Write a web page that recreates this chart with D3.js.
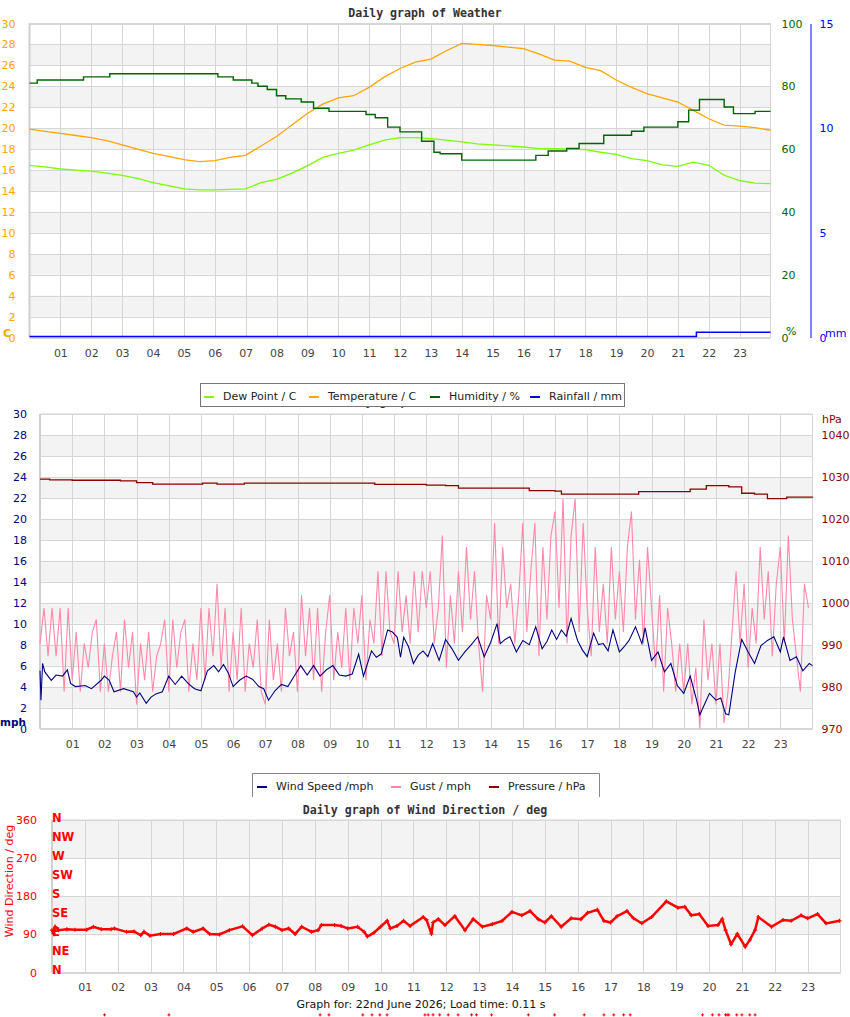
<!DOCTYPE html>
<html>
<head>
<meta charset="utf-8">
<script src="https://cdn.jsdelivr.net/npm/d3@7"></script>
<style>
  body { margin: 0; background: #fff; }
  svg text { font-family: "DejaVu Sans", sans-serif; }
  .title { font-family: "DejaVu Sans Mono", monospace; font-weight: bold; font-size: 11.6px; fill: #333; }
  .tick text { font-size: 11px; }
</style>
</head>
<body>
<div id="chart"></div>
<script>
// ---------- data ----------
const hourTicks = [1,2,3,4,5,6,7,8,9,10,11,12,13,14,15,16,17,18,19,20,21,22,23]
const halfHours = d3.range(0, 24.5, 0.5)

const temperature = [19.9,19.7,19.5,19.3,19.1,18.8,18.4,18.0,17.6,17.3,17.0,16.8,16.9,17.2,17.4,18.3,
  19.2,20.3,21.4,22.3,22.9,23.1,23.9,24.9,25.7,26.3,26.6,27.4,28.1,28.0,27.9,27.75,27.6,27.1,
  26.5,26.4,25.8,25.5,24.6,23.9,23.3,22.9,22.5,21.7,20.9,20.3,20.2,20.05,19.8]

const dewPoint = [16.45,16.3,16.1,16.0,15.9,15.7,15.5,15.2,14.8,14.5,14.2,14.1,14.1,14.15,14.2,14.8,
  15.1,15.7,16.4,17.2,17.6,17.9,18.4,18.85,19.1,19.1,19.0,18.85,18.7,18.5,18.4,18.3,18.2,18.05,
  18.05,18.0,17.95,17.7,17.5,17.1,16.9,16.5,16.35,16.75,16.45,15.5,15.0,14.75,14.7]

// [hour, %] step changes
const humidity = [[0,81],[0.25,82],[1.75,83],[2.6,84],[6.1,83],[6.6,82],[7.2,81],[7.4,80],[7.7,79],
  [8.0,77],[8.3,76],[8.8,75],[9.2,73],[9.7,72],[10.9,71],[11.2,70],[11.6,67],[12.0,65.5],[12.7,62.5],
  [13.1,59],[13.3,58.5],[14.0,56.5],[16.4,58],[16.8,59.4],[17.4,60.2],[17.8,61.8],[18.6,64.4],
  [19.5,65.7],[19.9,67],[21.0,68.7],[21.35,72.4],[21.7,75.8],[22.5,73.4],[22.8,71.3],[23.5,72],[24,72]]

const rainfall = [[0,0],[21.6,0.2],[24,0.2]]

const tempTicks = [0,2,4,6,8,10,12,14,16,18,20,22,24,26,28,30]
const humTicks = [0,20,40,60,80,100]
const rainTicks = [0,5,10,15]

// [hour, pressure hPa]
const pressure = [[0,1029.45],[0.3,1029.3],[1,1029.2],[2,1029.2],[2.5,1029.05],[3,1028.65],[3.5,1028.3],
  [5,1028.3],[5.05,1028.5],[5.3,1028.5],[5.5,1028.3],[6.3,1028.3],[6.35,1028.5],[10.2,1028.5],
  [10.4,1028.2],[11.5,1028.2],[12.0,1028.05],[12.6,1027.9],[13.0,1027.3],[15.0,1027.3],[15.2,1026.75],
  [16.0,1026.6],[16.2,1025.9],[18.2,1025.9],[18.6,1026.5],[19.8,1026.5],[20.2,1027.1],[20.7,1027.9],
  [21.2,1027.9],[21.4,1027.6],[21.8,1026.1],[22.2,1025.9],[22.6,1024.8],[22.8,1024.8],[23.2,1025.2],[24,1025.1]]

// [hour, mph]
const windSpeed = [[0,5.5],[0.03,2.7],[0.08,6.2],[0.15,5.4],[0.35,4.6],[0.5,5.1],[0.7,5.0],[0.85,5.6],
  [0.95,4.3],[1.1,4.0],[1.4,4.1],[1.6,3.8],[1.9,4.6],[2.0,5.0],[2.15,4.6],[2.3,3.5],[2.6,3.8],[2.9,3.5],
  [3.0,3.0],[3.1,3.4],[3.3,2.4],[3.45,3.0],[3.6,3.3],[3.8,3.5],[4.0,5.0],[4.2,4.2],[4.4,5.0],[4.6,4.3],
  [4.8,3.8],[5.0,3.6],[5.2,5.5],[5.4,6.0],[5.55,5.4],[5.7,6.1],[5.85,5.3],[6.0,4.0],[6.2,4.6],[6.4,5.0],
  [6.6,4.7],[6.8,4.0],[6.95,3.8],[7.1,2.7],[7.3,3.6],[7.5,4.2],[7.7,4.0],[7.9,5.0],[8.1,6.0],[8.3,5.1],
  [8.5,6.0],[8.7,5.0],[8.9,5.6],[9.1,6.0],[9.3,5.1],[9.5,5.0],[9.7,5.2],[9.9,7.1],[10.05,5.0],[10.3,7.4],
  [10.45,6.8],[10.6,7.1],[10.8,9.4],[10.95,9.2],[11.1,8.7],[11.2,6.8],[11.3,8.7],[11.45,7.8],[11.6,6.2],
  [11.75,7.0],[11.9,7.4],[12.05,6.85],[12.2,8.1],[12.4,6.5],[12.6,8.5],[12.8,7.6],[13.0,6.5],[13.2,7.3],
  [13.4,8.0],[13.6,8.75],[13.8,6.85],[14.0,8.2],[14.2,10.0],[14.3,8.1],[14.45,8.5],[14.6,8.75],[14.8,7.3],
  [15.0,8.4],[15.2,8.0],[15.4,9.7],[15.6,7.6],[15.75,8.3],[15.9,9.4],[16.05,8.5],[16.2,9.4],[16.35,8.8],
  [16.5,10.5],[16.7,8.4],[16.85,7.5],[17.0,6.85],[17.2,9.1],[17.35,8.0],[17.5,8.1],[17.65,7.4],[17.8,9.4],
  [18.0,7.3],[18.15,7.8],[18.3,8.4],[18.5,9.7],[18.7,8.1],[18.8,9.6],[19.0,6.5],[19.2,7.3],[19.4,5.4],
  [19.6,6.2],[19.8,4.1],[20.0,3.35],[20.2,5.0],[20.4,2.7],[20.5,1.3],[20.6,2.0],[20.8,3.35],[21.0,2.7],
  [21.15,2.9],[21.3,1.4],[21.4,1.3],[21.6,5.4],[21.8,8.5],[22.0,7.3],[22.2,6.2],[22.4,7.9],[22.6,8.4],
  [22.8,8.75],[23.0,7.3],[23.1,8.75],[23.3,6.5],[23.5,6.85],[23.7,5.5],[23.9,6.2],[24,6.0]]

// gust mph, 8 readings per hour (one row per hour)
const gust = [
  8.1,11.5,6.9,11.5,6.9,11.5,3.5,11.5,
  4.6,9.2,3.5,8.1,5.8,9.2,10.4,3.5,
  8.1,3.5,6.9,9.2,3.5,10.4,5.8,9.2,
  2.3,8.1,4.6,9.2,3.5,6.9,8.1,10.4,
  3.5,10.4,5.8,9.2,10.4,3.5,8.1,4.6,
  11.5,4.6,11.5,6.9,13.8,5.8,11.5,3.5,
  9.2,4.6,11.5,3.5,8.1,5.8,10.4,3.5,
  2.3,10.4,4.6,8.1,3.5,11.5,6.9,9.2,
  3.5,12.7,6.9,11.5,4.6,11.5,3.5,9.2,
  12.7,4.6,9.2,5.8,11.5,4.6,11.5,8.1,
  12.7,4.6,10.4,8.1,15.0,6.9,15.0,9.2,
  8.1,15.0,9.2,12.7,8.1,15.0,9.2,15.0,
  11.5,15.0,8.1,11.5,18.4,5.8,12.7,8.1,
  15.0,9.2,17.3,10.4,15.0,8.1,3.5,12.7,
  10.4,19.6,8.1,17.3,11.5,13.8,8.1,12.7,
  19.6,9.2,15.0,19.6,6.9,17.3,10.4,18.4,
  20.7,11.5,21.9,8.1,18.4,21.9,9.2,19.6,
  11.5,6.9,17.3,9.2,13.8,8.1,17.3,10.4,
  15.0,9.2,17.3,20.7,10.4,16.1,8.1,17.3,
  11.5,5.8,12.7,3.5,11.5,8.1,3.5,8.1,
  3.5,8.1,2.3,5.8,0,10.4,4.6,8.1,
  2.3,8.1,0.5,3.5,9.2,15.0,8.1,13.8,
  5.8,11.5,8.1,17.3,10.4,15.0,6.9,13.8,
  17.3,8.1,18.4,10.4,6.9,3.5,13.8,11.5]

const mphTicks = [0,2,4,6,8,10,12,14,16,18,20,22,24,26,28,30]
const hpaTicks = [970,980,990,1000,1010,1020,1030,1040]

// [hour, degrees]
const windDir = [[0,100],[0.05,92],[0.1,108],[0.2,100],[0.45,102],[0.7,101],[1.05,101],[1.26,108],[1.5,102],
  [1.8,102],[1.9,104],[2.27,96],[2.5,97],[2.7,88],[2.8,96],[2.98,87],[3.3,91],[3.7,91],[4.1,104],[4.3,96],
  [4.6,104],[4.8,91],[5.1,90],[5.4,100],[5.8,109],[6.1,88],[6.4,104],[6.6,113],[6.8,108],[7.0,100],
  [7.2,104],[7.4,91],[7.6,108],[7.9,96],[8.1,100],[8.2,112],[8.6,112],[8.8,110],[9.0,104],[9.3,108],
  [9.5,96],[9.6,85],[9.8,94],[10.0,108],[10.2,122],[10.3,104],[10.5,110],[10.7,122],[10.9,110],[11.3,131],
  [11.4,124],[11.55,91],[11.6,118],[11.76,126],[11.96,112],[12.26,133],[12.57,100],[12.82,126],[13.1,108],
  [13.4,114],[13.7,122],[14.0,143],[14.3,135],[14.55,145],[14.8,126],[15.0,118],[15.2,133],[15.5,108],
  [15.8,128],[16.1,126],[16.3,141],[16.6,148],[16.8,122],[17.0,118],[17.2,133],[17.5,145],[17.7,128],
  [17.95,116],[18.25,131],[18.7,168],[19.05,153],[19.26,155],[19.46,135],[19.7,138],[19.97,110],[20.27,112],
  [20.4,126],[20.5,100],[20.67,67],[20.86,91],[21.1,61],[21.24,77],[21.4,100],[21.5,131],[21.9,108],
  [22.25,124],[22.5,122],[22.8,135],[23.0,128],[23.3,138],[23.56,116],[23.97,122]]

// readings logged as calm (value -100)
const calmHours = [1.6,3.56,8.16,8.43,9.46,9.74,9.98,10.2,11.35,11.45,11.6,11.8,12.06,12.36,12.77,12.92,
  13.38,14.5,15.3,16.2,16.8,17.1,17.4,17.6,19.8,20.1,20.3,20.5,20.55,20.6,20.84,21.0,21.24,21.4]
const calmValue = -100

const dirTicks = [0,90,180,270,360]
const compass = [[360,"N"],[315,"NW"],[270,"W"],[225,"SW"],[180,"S"],[135,"SE"],[90,"E"],[45,"NE"],[0,"N"]]

// ---------- drawing ----------
const svg = d3.select("#chart").append("svg")
  .attr("width", 850)
  .attr("height", 1017)

const fmt2 = d3.format("02d")

function frame(x, y, bands, gridVals) {
  const g = svg.append("g")
  const [x0, x1] = x.range()
  g.selectAll("rect.band").data(bands).join("rect")
    .attr("x", x0).attr("width", x1 - x0)
    .attr("y", d => y(d[1])).attr("height", d => y(d[0]) - y(d[1]))
    .attr("fill", "#f3f3f3")
  g.selectAll("line.h").data(gridVals).join("line")
    .attr("x1", x0).attr("x2", x1)
    .attr("y1", d => Math.round(y(d)) + 0.5).attr("y2", d => Math.round(y(d)) + 0.5)
    .attr("stroke", "#d6d6d6")
  g.selectAll("line.v").data(hourTicks).join("line")
    .attr("x1", d => Math.round(x(d)) + 0.5).attr("x2", d => Math.round(x(d)) + 0.5)
    .attr("y1", y.range()[1]).attr("y2", y.range()[0])
    .attr("stroke", "#d6d6d6")
  g.append("rect")
    .attr("x", x0).attr("y", y.range()[1])
    .attr("width", x1 - x0).attr("height", y.range()[0] - y.range()[1])
    .attr("fill", "none").attr("stroke", "#d6d6d6")
  g.append("line")
    .attr("x1", x0).attr("x2", x0).attr("y1", y.range()[1]).attr("y2", y.range()[0])
    .attr("stroke", "#cfcfcf").attr("stroke-width", 2)
}

function xAxis(x, yPos, pad) {
  svg.append("g")
    .attr("transform", "translate(0," + yPos + ")")
    .call(d3.axisBottom(x).tickValues(hourTicks).tickFormat(fmt2).tickSize(0).tickPadding(pad))
    .call(g => g.select(".domain").remove())
    .selectAll("text").attr("fill", "#444")
}

function yAxis(axis, xPos, color, keepDomain) {
  const g = svg.append("g")
    .attr("transform", "translate(" + xPos + ",0)")
    .call(axis)
  if (!keepDomain) g.select(".domain").remove()
  else g.select(".domain").attr("stroke", color)
  g.selectAll("text").attr("fill", color)
  g.selectAll(".tick line").remove()
}

function legend(x, y, w, items, openBottom) {
  const g = svg.append("g")
  g.append("rect").attr("x", x).attr("y", y).attr("width", w).attr("height", 23).attr("fill", "#fff")
  if (openBottom) {
    g.append("path").attr("d", `M${x + 0.5},${y + 24}V${y + 0.5}H${x + w + 0.5}V${y + 24}`)
      .attr("fill", "none").attr("stroke", "#888")
  } else {
    g.append("rect").attr("x", x + 0.5).attr("y", y + 0.5).attr("width", w).attr("height", 23)
      .attr("fill", "none").attr("stroke", "#777")
  }
  items.forEach(it => {
    g.append("line").attr("x1", it.x).attr("x2", it.x + 10)
      .attr("y1", y + 14).attr("y2", y + 14)
      .attr("stroke", it.color).attr("stroke-width", 2)
    g.append("text").attr("x", it.x + 19).attr("y", y + 17)
      .attr("font-size", 11).attr("fill", "#222").text(it.label)
  })
}

// ===== chart 1: weather =====
const x1 = d3.scaleLinear().domain([0, 24]).range([29.5, 770.5])
const yT = d3.scaleLinear().domain([0, 30]).range([337.5, 23.5])
const yH = d3.scaleLinear().domain([0, 100]).range([337.5, 23.5])
const yR = d3.scaleLinear().domain([0, 15]).range([337.5, 23.5])

svg.append("text").attr("class", "title").attr("x", 425).attr("y", 17)
  .attr("text-anchor", "middle").text("Daily graph of Weather")

frame(x1, yT, [[2,4],[6,8],[10,12],[14,16],[18,20],[22,24],[26,28]], tempTicks)

const tLine = d3.line().x((d, i) => x1(halfHours[i])).y(d => yT(d))
svg.append("path").datum(temperature).attr("d", tLine)
  .attr("fill", "none").attr("stroke", "#ffa500").attr("stroke-width", 1.3)
svg.append("path").datum(dewPoint).attr("d", tLine)
  .attr("fill", "none").attr("stroke", "#7cfc00").attr("stroke-width", 1.3)
svg.append("path").datum(humidity)
  .attr("d", d3.line().curve(d3.curveStepAfter).x(d => x1(d[0])).y(d => yH(d[1])))
  .attr("fill", "none").attr("stroke", "#006400").attr("stroke-width", 1.4)
svg.append("path").datum(rainfall)
  .attr("d", d3.line().curve(d3.curveStepAfter).x(d => x1(d[0])).y(d => yR(d[1]) - 1))
  .attr("fill", "none").attr("stroke", "#0000ff").attr("stroke-width", 1.5)

xAxis(x1, 337.5, 12)
yAxis(d3.axisLeft(yT).tickValues(tempTicks).tickPadding(8), 29.5, "#ffa500")
yAxis(d3.axisRight(yH).tickValues(humTicks).tickPadding(5), 770.5, "#006400")
yAxis(d3.axisRight(yR).tickValues(rainTicks).tickSizeOuter(0).tickPadding(3), 810.5, "#0000ff", true)
svg.append("text").attr("x", 3).attr("y", 337).attr("fill", "#ffa500")
  .attr("font-family", "DejaVu Sans Mono").attr("font-weight", "bold").attr("font-size", 11).text("C")
svg.append("text").attr("x", 786).attr("y", 335).attr("fill", "#006400").attr("font-size", 11).text("%")
svg.append("text").attr("x", 825).attr("y", 337).attr("fill", "#0000ff").attr("font-size", 11).text("mm")

// ===== chart 2: wind speed / pressure =====
const x2 = d3.scaleLinear().domain([0, 24]).range([40, 812.5])
const yW = d3.scaleLinear().domain([0, 30]).range([728.5, 414])
const yP = d3.scaleLinear().domain([970, 1045]).range([728.5, 414])

svg.append("text").attr("class", "title").attr("x", 425).attr("y", 405)
  .attr("text-anchor", "middle").text("Daily graph of Wind/Press")

legend(200, 383, 424, [
  { x: 204, color: "#7cfc00", label: "Dew Point / C" },
  { x: 309, color: "#ffa500", label: "Temperature / C" },
  { x: 430, color: "#006400", label: "Humidity / %" },
  { x: 530, color: "#0000ff", label: "Rainfall / mm" }
])

frame(x2, yW, [[2,4],[6,8],[10,12],[14,16],[18,20],[22,24],[26,28]], mphTicks)

svg.append("path").datum(gust)
  .attr("d", d3.line().x((d, i) => x2(i / 8)).y(d => yW(d)))
  .attr("fill", "none").attr("stroke", "#ff88aa").attr("stroke-width", 1.1)
svg.append("path").datum(windSpeed)
  .attr("d", d3.line().x(d => x2(d[0])).y(d => yW(d[1])))
  .attr("fill", "none").attr("stroke", "#000080").attr("stroke-width", 1.1)
svg.append("path").datum(pressure)
  .attr("d", d3.line().curve(d3.curveStepAfter).x(d => x2(d[0])).y(d => yP(d[1])))
  .attr("fill", "none").attr("stroke", "#8b0000").attr("stroke-width", 1.3)

xAxis(x2, 728.5, 12)
yAxis(d3.axisLeft(yW).tickValues(mphTicks).tickPadding(7), 40, "#000080")
yAxis(d3.axisRight(yP).tickValues(hpaTicks).tickFormat(d3.format("d")).tickPadding(3), 812.5, "#8b0000")
svg.append("text").attr("x", 0).attr("y", 726).attr("fill", "#000080")
  .attr("font-family", "DejaVu Sans Mono").attr("font-weight", "bold").attr("font-size", 10.5).text("mph")
svg.append("text").attr("x", 822).attr("y", 423).attr("fill", "#8b0000").attr("font-size", 11).text("hPa")

// ===== chart 3: wind direction =====
const x3 = d3.scaleLinear().domain([0, 24]).range([52, 840.5])
const yD = d3.scaleLinear().domain([0, 360]).range([972.5, 820])

legend(252, 773, 347, [
  { x: 257, color: "#000080", label: "Wind Speed /mph" },
  { x: 391, color: "#ff88aa", label: "Gust / mph" },
  { x: 489, color: "#8b0000", label: "Pressure / hPa" }
], true)

svg.append("text").attr("class", "title").attr("x", 425).attr("y", 814)
  .attr("text-anchor", "middle").text("Daily graph of Wind Direction / deg")

frame(x3, yD, [[90,180],[270,360]], dirTicks)

svg.append("path").datum(windDir)
  .attr("d", d3.line().x(d => x3(d[0])).y(d => yD(d[1])))
  .attr("fill", "none").attr("stroke", "#ff0000").attr("stroke-width", 2.5)
svg.selectAll("path.dir").data(windDir).join("path")
  .attr("transform", d => "translate(" + x3(d[0]) + "," + yD(d[1]) + ")")
  .attr("d", "M-2,0H2M0,-2V2").attr("stroke", "#ff0000").attr("stroke-width", 1.2)
svg.selectAll("path.calm").data(calmHours).join("path")
  .attr("transform", d => "translate(" + x3(d) + "," + yD(calmValue) + ")")
  .attr("d", "M-1.5,0H1.5M0,-1.5V1.5").attr("stroke", "#ff0000").attr("stroke-width", 1)

xAxis(x3, 972.5, 11)
yAxis(d3.axisLeft(yD).tickValues(dirTicks).tickPadding(9), 52, "#ff0000")
svg.append("g").selectAll("text").data(compass).join("text")
  .attr("x", 52).attr("y", d => yD(d[0]) + 1.5)
  .attr("fill", "#ff0000").attr("font-family", "DejaVu Sans Mono").attr("font-weight", "bold")
  .attr("font-size", 11.5).text(d => d[1])
svg.append("text")
  .attr("transform", "translate(13,881) rotate(-90)")
  .attr("text-anchor", "middle").attr("fill", "#ff0000").attr("font-size", 11)
  .text("Wind Direction / deg")

svg.append("text").attr("x", 421).attr("y", 1008).attr("text-anchor", "middle")
  .attr("font-size", 11).attr("fill", "#111").text("Graph for: 22nd June 2026; Load time: 0.11 s")
</script>
</body>
</html>
